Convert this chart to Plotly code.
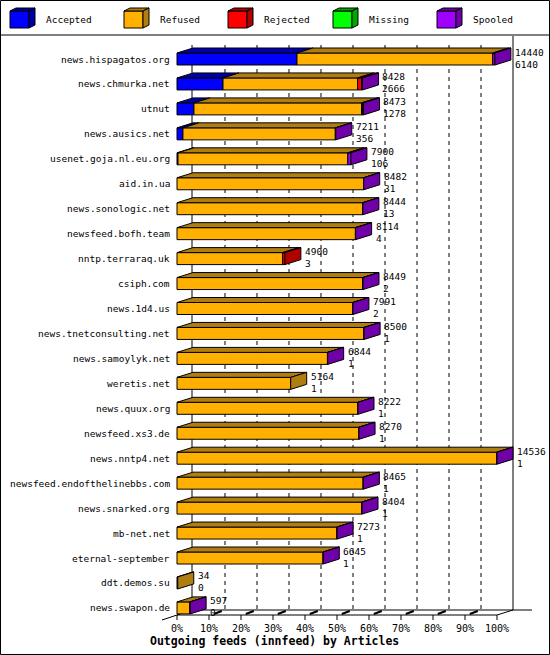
import plotly.graph_objects as go

hosts = ["news.hispagatos.org","news.chmurka.net","utnut","news.ausics.net","usenet.goja.nl.eu.org",
         "aid.in.ua","news.sonologic.net","newsfeed.bofh.team","nntp.terraraq.uk","csiph.com","news.1d4.us",
         "news.tnetconsulting.net","news.samoylyk.net","weretis.net","news.quux.org","newsfeed.xs3.de",
         "news.nntp4.net","newsfeed.endofthelinebbs.com","news.snarked.org","mb-net.net","eternal-september",
         "ddt.demos.su","news.swapon.de"]
offered = [14440,8428,8473,7211,7900,8482,8444,8114,4900,8449,7991,8500,6844,5164,8222,8270,14536,8465,8404,7273,6645,34,597]
accepted_lbl = [6140,2666,1278,356,106,31,13,4,3,2,2,1,1,1,1,1,1,1,1,1,1,0,0]
accepted = [5450,2090,770,270,45,0,0,0,0,0,0,0,0,0,0,0,0,0,0,0,0,0,0]
rejected = [0,180,45,0,0,0,0,0,100,0,0,0,0,0,0,0,0,0,0,0,0,0,0]
missing  = [0]*23
spooled  = [100,45,45,20,140,10,10,10,0,10,10,10,10,0,10,10,10,10,10,10,10,0,10]
refused  = [o-a-r-m-s for o,a,r,m,s in zip(offered,accepted,rejected,missing,spooled)]

series = ["Accepted","Refused","Rejected","Missing","Spooled"]
front = ["#0000FF","#FFB000","#FF0000","#00FF00","#A000FF"]
dark  = ["#0000A8","#B07E10","#B00000","#00A800","#7000A8"]
ticks = [f"{k}%" for k in range(0,101,10)]

X0, SC = 177.0, 3.2
def X(px): return (px - X0)/SC
DX, DY = 5.0, 5
MAXV = max(offered)

fig = go.Figure()
shapes = []; ann = []
F = "DejaVu Sans Mono"
def poly(pts, fill, lw=1, color="black"):
    d = "M " + " L ".join(f"{x},{y}" for x,y in pts) + " Z"
    shapes.append(dict(type="path", path=d, xref="x", yref="y", fillcolor=fill,
                       line=dict(color=color, width=lw), layer="above"))
def line(x0,y0,x1,y1,dash="solid",w=1):
    shapes.append(dict(type="line", x0=x0,y0=y0,x1=x1,y1=y1, xref="x", yref="y",
                       line=dict(color="black", width=w, dash=dash), layer="above"))

line(X(192),45,X(192),610); line(X(513),36,X(513),610)
for k in range(1,10):
    line(k*10+DX,45,k*10+DX,610,dash="4px,4px")
line(X(192),610,X(532),610); line(0,615,100,615)
line(X(162),620,X(192),610); line(100,615,100+DX,610)
for k in range(0,11):
    line(k*10,615,k*10,620)
    if 0 < k < 10:
        line(k*10+1.5,614,k*10+4,611,w=2)
    ann.append(dict(x=k*10,y=628,text=ticks[k],showarrow=False,xanchor="center",yanchor="middle",
                    font=dict(family=F,size=10,color="black")))
ann.append(dict(x=X(148),y=641,text="<b>Outgoing feeds (innfeed) by Articles</b>",showarrow=False,
                xanchor="left",yanchor="middle",font=dict(family=F,size=11.5,color="black")))

for i,h in enumerate(hosts):
    c = 59 + 24.95*i
    top, bot = c-6, c+6
    vals = [accepted[i],refused[i],rejected[i],missing[i],spooled[i]]
    a = 0.0; last = 0
    segs = []
    for j,v in enumerate(vals):
        if v <= 0: continue
        b = a + v/MAXV*100
        segs.append((a,b,j)); a = b; last = j
    for a0,b0,j in segs:
        poly([(a0,top),(b0,top),(b0,bot),(a0,bot)], front[j])
    for a0,b0,j in segs:
        poly([(a0,top),(b0,top),(b0+DX,top-DY),(a0+DX,top-DY)], dark[j])
    poly([(a,top),(a+DX,top-DY),(a+DX,bot-DY),(a,bot)], dark[last])
    ann.append(dict(x=X(172),y=c,text=h,showarrow=False,xanchor="right",yanchor="middle",
                    font=dict(family=F,size=9.5,color="black")))
    ann.append(dict(x=a+DX+0.6,y=c-7,text=str(offered[i]),showarrow=False,xanchor="left",yanchor="middle",
                    font=dict(family=F,size=9.5,color="black")))
    ann.append(dict(x=a+DX+0.6,y=c+5,text=str(accepted_lbl[i]),showarrow=False,xanchor="left",yanchor="middle",
                    font=dict(family=F,size=9.5,color="black")))

lx = [10,124,228,333,437]
for j,s in enumerate(series):
    x0 = lx[j]
    poly([(X(x0),11),(X(x0+19),11),(X(x0+19),28),(X(x0),28)], front[j])
    poly([(X(x0),11),(X(x0+19),11),(X(x0+25),8),(X(x0+6),8)], dark[j])
    poly([(X(x0+19),11),(X(x0+25),8),(X(x0+25),25),(X(x0+19),28)], dark[j])
    ann.append(dict(x=X(x0+34),y=19,text=s,showarrow=False,xanchor="left",yanchor="middle",
                    font=dict(family=F,size=9.5,color="black")))
line(X(0),35,X(550),35)
shapes.append(dict(type="rect",x0=X(0.5),x1=X(549.5),y0=0.5,y1=654.5,xref="x",yref="y",
                   line=dict(color="black",width=1)))

fig.update_layout(width=550,height=655,margin=dict(l=0,r=0,t=0,b=0),
                  paper_bgcolor="white",plot_bgcolor="white",showlegend=False,
                  shapes=shapes,annotations=ann,
                  xaxis=dict(range=[X(0),X(550)],visible=False,fixedrange=True),
                  yaxis=dict(range=[655,0],visible=False,fixedrange=True))
fig.write_html("out.html", config={"displayModeBar": False},
               post_script="document.body.style.margin='0';document.body.style.overflow='hidden';")
